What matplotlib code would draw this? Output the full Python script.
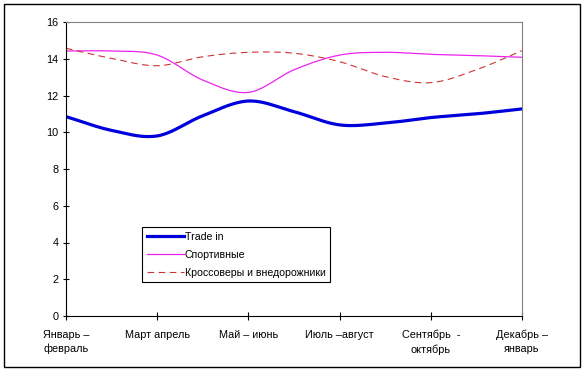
import matplotlib
matplotlib.use("Agg")
import matplotlib.pyplot as plt
import numpy as np
from matplotlib.patches import Rectangle

plt.rcParams["font.family"] = ["Liberation Sans", "DejaVu Sans"]

# Category labels (ticks at whole positions)
categories = [
    "Январь –\nфевраль",
    "Март апрель",
    "Май – июнь",
    "Июль –август",
    "Сентябрь  -\nоктябрь",
    "Декабрь –\nянварь",
]

# Values read every half category (0, 0.5, ..., 5)
pos = [0, 0.5, 1, 1.5, 2, 2.5, 3, 3.5, 4, 4.5, 5]
trade_in = [10.85, 10.1, 9.8, 10.9, 11.7, 11.12, 10.4, 10.5, 10.8, 11.0, 11.27]
sport = [14.42, 14.42, 14.2, 12.84, 12.17, 13.4, 14.2, 14.35, 14.24, 14.17, 14.08]
cross = [14.57, 14.02, 13.62, 14.11, 14.35, 14.3, 13.84, 13.03, 12.7, 13.4, 14.44]


def smooth(xs, ys, n=20):
    # Catmull-Rom spline through the points (like Excel "smoothed line")
    xs = np.asarray(xs, float)
    ys = np.asarray(ys, float)
    px = np.concatenate([[2 * xs[0] - xs[1]], xs, [2 * xs[-1] - xs[-2]]])
    py = np.concatenate([[2 * ys[0] - ys[1]], ys, [2 * ys[-1] - ys[-2]]])
    out_x, out_y = [], []
    t = np.linspace(0, 1, n, endpoint=False)
    for i in range(1, len(px) - 2):
        for arr, res in ((px, out_x), (py, out_y)):
            p0, p1, p2, p3 = arr[i - 1], arr[i], arr[i + 1], arr[i + 2]
            res.extend(
                0.5 * ((2 * p1) + (-p0 + p2) * t
                       + (2 * p0 - 5 * p1 + 4 * p2 - p3) * t ** 2
                       + (-p0 + 3 * p1 - 3 * p2 + p3) * t ** 3)
            )
    out_x.append(xs[-1])
    out_y.append(ys[-1])
    return out_x, out_y


fig = plt.figure(figsize=(5.85, 3.7), dpi=100)
ax = fig.add_axes([66 / 585, 54 / 370, 456 / 585, 294 / 370])

# Outer border of the chart
fig.add_artist(Rectangle((4 / 585, 3.5 / 370), 576 / 585, 362.5 / 370,
                         transform=fig.transFigure, fill=False,
                         edgecolor="black", linewidth=1))

ax.plot(*smooth(pos, trade_in), color="#0000DD", linewidth=2.3, label="Trade in")
ax.plot(*smooth(pos, sport), color="#EE22EE", linewidth=0.9, label="Спортивные")
ax.plot(*smooth(pos, cross), color="#CC3333", linewidth=0.8,
        dashes=(6, 4), label="Кроссоверы и внедорожники")

ax.set_xlim(0, 5)
ax.set_ylim(0, 16)
ax.set_yticks(range(0, 17, 2))
ax.set_xticks(range(len(categories)))
ax.set_xticklabels(categories, fontsize=7.8, linespacing=1.45)
ax.tick_params(axis="y", labelsize=7.8, direction="inout", length=5, width=0.8, pad=3)
ax.tick_params(axis="x", direction="inout", length=6, width=0.8, pad=7)

for side in ("top", "right"):
    ax.spines[side].set_color("#808080")
for side in ("left", "bottom"):
    ax.spines[side].set_color("black")

leg = ax.legend(loc="upper left", bbox_to_anchor=(142 / 585, 1 - 227 / 370),
                bbox_transform=fig.transFigure, borderaxespad=0,
                fontsize=7.6, handlelength=3.5, handletextpad=0.1,
                labelspacing=0.75, borderpad=0.45, fancybox=False, framealpha=1)
leg.get_frame().set_edgecolor("black")
leg.get_frame().set_linewidth(0.8)

fig.savefig("out.png", dpi=100)
